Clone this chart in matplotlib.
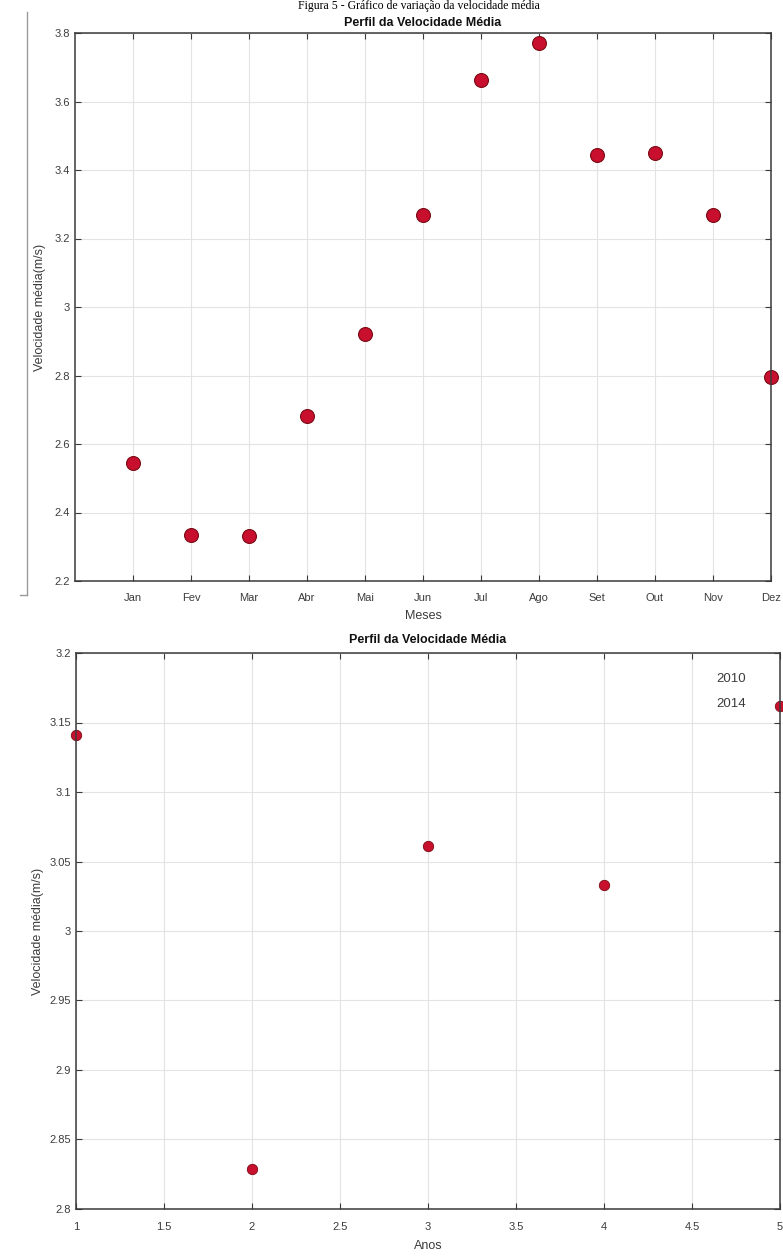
import matplotlib
matplotlib.use("Agg")
import matplotlib.pyplot as plt
from matplotlib.lines import Line2D

# ---- data ----
meses = ["Jan", "Fev", "Mar", "Abr", "Mai", "Jun", "Jul", "Ago", "Set", "Out", "Nov", "Dez"]
vel_mensal = [2.545, 2.335, 2.330, 2.682, 2.920, 3.270, 3.664, 3.770, 3.444, 3.450, 3.270, 2.796]

anos = [1, 2, 3, 4, 5]
vel_anual = [3.141, 2.829, 3.061, 3.033, 3.162]
legenda_anos = ["2010", "2014"]

plt.rcParams["font.family"] = ["Liberation Sans", "DejaVu Sans"]
TXT = "#3c3c3c"
AXC = "#3a3a3a"
RED = "#c8102e"
EDGE = "#7a0a14"

fig = plt.figure(figsize=(7.83, 12.57), dpi=100)
W, H = 783, 1257


def box(l, t, r, b):
    return [l / W, 1 - b / H, (r - l) / W, (b - t) / H]


def style(ax):
    ax.grid(True, color="#e3e3e3", lw=0.8)
    ax.set_axisbelow(True)
    for s in ax.spines.values():
        s.set_color(AXC)
        s.set_linewidth(1.1)
    ax.tick_params(direction="in", top=True, right=True, length=4,
                   colors=AXC, labelcolor=TXT, labelsize=8)
    ax.tick_params(axis="x", pad=9)


# caption of the page (cut off in the source document)
fig.text(0.535, 1.0, "Figura 5 - Gráfico de variação da velocidade média",
         family=["Liberation Serif", "DejaVu Serif"], fontsize=8.5,
         ha="center", va="top", color="black")

# page border artefact
fig.add_artist(Line2D([27 / W, 27 / W], [1 - 12 / H, 1 - 595 / H],
                      color="#9a9a9a", lw=1.0))
fig.add_artist(Line2D([20 / W, 27 / W], [1 - 595 / H, 1 - 595 / H],
                      color="#9a9a9a", lw=1.0))

# ---- top: monthly ----
ax1 = fig.add_axes(box(75, 33, 771, 581))
style(ax1)
x1 = list(range(1, len(meses) + 1))
ax1.plot(x1, vel_mensal, "o", ms=10, color=RED, mec=EDGE, mew=0.8, clip_on=False)
ax1.set_xlim(0, 12)
ax1.set_ylim(2.2, 3.8)
ax1.set_xticks(x1)
ax1.set_xticklabels(meses)
ax1.set_yticks([2.2, 2.4, 2.6, 2.8, 3.0, 3.2, 3.4, 3.6, 3.8])
ax1.set_yticklabels(["2.2", "2.4", "2.6", "2.8", "3", "3.2", "3.4", "3.6", "3.8"])
ax1.set_xlabel("Meses", fontsize=9, color=TXT, labelpad=5)
ax1.set_ylabel("Velocidade média(m/s)", fontsize=9, color=TXT, labelpad=6)
ax1.set_title("Perfil da Velocidade Média", fontsize=9, fontweight="bold",
              color="#111111", pad=5)

# ---- bottom: yearly ----
ax2 = fig.add_axes(box(76, 653, 780, 1209))
style(ax2)
ax2.plot(anos, vel_anual, "o", ms=7.5, color=RED, mec=EDGE, mew=0.6, clip_on=False)
ax2.set_xlim(1, 5)
ax2.set_ylim(2.8, 3.2)
ax2.set_xticks([1, 1.5, 2, 2.5, 3, 3.5, 4, 4.5, 5])
ax2.set_xticklabels(["1", "1.5", "2", "2.5", "3", "3.5", "4", "4.5", "5"])
ax2.set_yticks([2.8, 2.85, 2.9, 2.95, 3.0, 3.05, 3.1, 3.15, 3.2])
ax2.set_yticklabels(["2.8", "2.85", "2.9", "2.95", "3", "3.05", "3.1", "3.15", "3.2"])
ax2.set_xlabel("Anos", fontsize=9, color=TXT, labelpad=6)
ax2.set_ylabel("Velocidade média(m/s)", fontsize=9, color=TXT, labelpad=4)
ax2.set_title("Perfil da Velocidade Média", fontsize=9, fontweight="bold",
              color="#111111", pad=7)
handles = [Line2D([], [], ls="none", marker="none") for _ in legenda_anos]
leg = ax2.legend(handles, legenda_anos, loc="upper right", frameon=False,
                 bbox_to_anchor=(0.952, 0.965), borderaxespad=0, borderpad=0,
                 handlelength=0, handletextpad=0, fontsize=9.5,
                 labelspacing=1.0)
for t in leg.get_texts():
    t.set_color(TXT)

fig.savefig("out.png", dpi=100)
